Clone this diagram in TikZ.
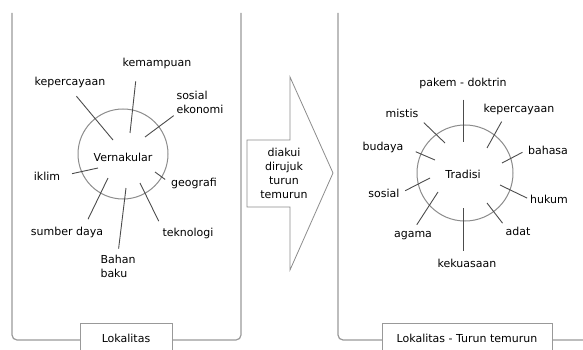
\documentclass[tikz,border=0pt]{standalone}
\usepackage{fontspec}
\setmainfont{DejaVu Sans}
\usetikzlibrary{positioning}

\begin{document}
\begin{tikzpicture}[
    x=1pt, y=-1pt,
    every node/.style={font=\fontsize{11}{14}\selectfont, text=black},
    lbl/.style={inner sep=1pt, align=center},
    lblL/.style={inner sep=1pt, align=left},
    ring/.style={draw=black!45, line width=1pt, circle, inner sep=0pt},
    spoke/.style={draw=black!70, line width=0.9pt},
    panel/.style={draw=black!40, line width=1.2pt, rounded corners=5pt},
    tag/.style={draw=black!40, line width=1pt, fill=white, minimum height=30pt},
    flow/.style={draw=black!45, line width=0.8pt, fill=white}
]
    \useasboundingbox (0,0) rectangle (583,350);

    % panels
    \draw[panel] (12,13) -- (12,340) -- (241,340) -- (241,13);
    \draw[panel] (338,13) -- (338,340) -- (600,340);
    \node[tag, minimum width=92pt] (lok) at (126,338) {Lokalitas};
    \node[tag, minimum width=170pt] (lokturun) at (467,338) {Lokalitas - Turun temurun};

    % middle arrow
    \draw[flow] (247,140) -- (290,140) -- (290,77) -- (333,173) -- (290,270)
        -- (290,207) -- (247,207) -- cycle;
    \node[lbl] (pass) at (284,173) {diakui\\dirujuk\\turun\\temurun};

    % left: vernakular
    \node[ring, minimum size=90pt] (vern) at (123,154) {};
    \node (vernlbl) at (123,157) {Vernakular};
    \node[lbl] (kepL) at (70,82) {kepercayaan};
    \node[lbl] (kem) at (157,63) {kemampuan};
    \node[lblL] (sosek) at (200,102) {sosial\\ekonomi};
    \node[lbl] (iklim) at (47,176) {iklim};
    \node[lbl] (geo) at (194,183) {geografi};
    \node[lbl] (sumber) at (67,232) {sumber daya};
    \node[lblL] (bahan) at (118,266) {Bahan\\baku};
    \node[lbl] (tekno) at (188,233) {teknologi};

    \coordinate (kepLi) at (113,140);
    \coordinate (kemi) at (130,133);
    \coordinate (soseki) at (145,137);
    \coordinate (iklimi) at (98,168);
    \coordinate (geoi) at (155,172);
    \coordinate (sumberi) at (108,178);
    \coordinate (bahani) at (126,188);
    \coordinate (teknoi) at (140,183);

    \draw[spoke, shorten <=10pt] (kepL.south) -- (kepLi);
    \draw[spoke, shorten <=12pt] ([xshift=-20pt]kem.south) -- (kemi);
    \draw[spoke, shorten <=2pt] (sosek.south west) -- (soseki);
    \draw[spoke, shorten <=11pt] (iklim.east) -- (iklimi);
    \draw[spoke, shorten <=6pt] (geo.west) -- (geoi);
    \draw[spoke, shorten <=7pt] ([xshift=18pt]sumber.north) -- (sumberi);
    \draw[spoke, shorten <=5pt] (bahan.north) -- (bahani);
    \draw[spoke, shorten <=6pt] (tekno.north west) -- (teknoi);

    % right: tradisi
    \node[ring, minimum size=96pt] (trad) at (465,173) {};
    \node (tradlbl) at (463,174) {Tradisi};
    \node[lbl] (pakem) at (463,83) {pakem - doktrin};
    \node[lbl] (kepR) at (519,109) {kepercayaan};
    \node[lbl] (bahasa) at (548,150) {bahasa};
    \node[lbl] (hukum) at (549,199) {hukum};
    \node[lbl] (adat) at (518,231) {adat};
    \node[lbl] (kuasa) at (467,263) {kekuasaan};
    \node[lbl] (agama) at (413,236) {agama};
    \node[lbl] (sosial) at (384,193) {sosial};
    \node[lbl] (budaya) at (383,147) {budaya};
    \node[lbl] (mistis) at (402,113) {mistis};

    \coordinate (pakemi) at (463,142);
    \coordinate (kepRi) at (487,148);
    \coordinate (bahasai) at (502,163);
    \coordinate (hukumi) at (500,185);
    \coordinate (adati) at (487,203);
    \coordinate (kuasai) at (463,208);
    \coordinate (agamai) at (438,192);
    \coordinate (sosiali) at (430,178);
    \coordinate (budayai) at (435,160);
    \coordinate (mistisi) at (445,143);

    \draw[spoke, shorten <=10pt] (pakem.south) -- (pakemi);
    \draw[spoke, shorten <=7pt] ([xshift=-14pt]kepR.south) -- (kepRi);
    \draw[spoke, shorten <=5pt] (bahasa.west) -- (bahasai);
    \draw[spoke, shorten <=2pt] (hukum.west) -- (hukumi);
    \draw[spoke, shorten <=3pt] (adat.north west) -- (adati);
    \draw[spoke, shorten <=7pt] ([xshift=-4pt]kuasa.north) -- (kuasai);
    \draw[spoke, shorten <=7pt] (agama.north) -- (agamai);
    \draw[spoke, shorten <=5pt] (sosial.east) -- (sosiali);
    \draw[spoke, shorten <=12pt] (budaya.east) -- (budayai);
    \draw[spoke, shorten <=6pt] (mistis.south east) -- (mistisi);
\end{tikzpicture}
\end{document}
